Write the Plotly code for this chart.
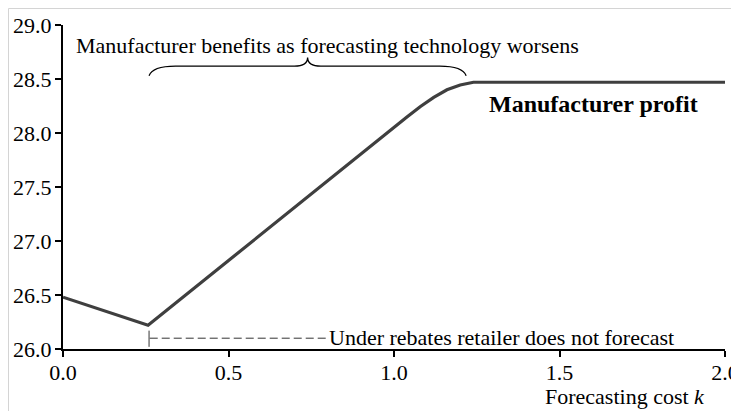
import plotly.graph_objects as go

# Data
k_values = [0.0, 0.257, 1.04, 1.08, 1.12, 1.16, 1.20, 1.24, 2.0]
profit = [26.48, 26.22, 28.15, 28.245, 28.33, 28.40, 28.445, 28.47, 28.47]

x_ticks = [0.0, 0.5, 1.0, 1.5, 2.0]
x_tick_labels = ["0.0", "0.5", "1.0", "1.5", "2.0"]
y_ticks = [26.0, 26.5, 27.0, 27.5, 28.0, 28.5, 29.0]
y_tick_labels = ["26.0", "26.5", "27.0", "27.5", "28.0", "28.5", "29.0"]

FONT = "Liberation Serif"
FS = 22

fig = go.Figure()
fig.add_trace(go.Scatter(
    x=k_values, y=profit, mode="lines",
    line=dict(color="#3f3f3f", width=3.2),
    hoverinfo="skip", showlegend=False,
))

# page offset (body margin) of the rendered figure
OFF = 8
W, H = 739, 411
# target plot area in page pixels: x 63..725, y 25..349
ml, mt = 63 - OFF, 25 - OFF
pw, ph = 662, 324
mr, mb = W - ml - pw, H - mt - ph

def px(xp):  # page x -> paper
    return (xp - OFF - ml) / pw

def py(yp):  # page y -> paper
    return (H - mb - (yp - OFF)) / ph

shapes = []
# light border of original image frame
shapes.append(dict(type="line", xref="paper", yref="paper",
                   x0=px(8.5), x1=px(760), y0=py(8.5), y1=py(8.5),
                   line=dict(color="#d4d4d4", width=1)))
shapes.append(dict(type="line", xref="paper", yref="paper",
                   x0=px(8.5), x1=px(8.5), y0=py(8.5), y1=py(440),
                   line=dict(color="#d4d4d4", width=1)))

# curly brace (data coordinates)
xl, xr, xm = 0.26, 1.218, 0.739
yf, ye, yt = 28.62, 28.53, 28.70
brace = (f"M {xl},{ye} Q {xl+0.01},{yf} {xl+0.08},{yf} "
         f"L {xm-0.04},{yf} Q {xm},{yf} {xm},{yt} "
         f"Q {xm},{yf} {xm+0.04},{yf} "
         f"L {xr-0.08},{yf} Q {xr-0.01},{yf} {xr},{ye}")
shapes.append(dict(type="path", xref="x", yref="y", path=brace,
                   line=dict(color="black", width=1.3)))

# dashed indicator
shapes.append(dict(type="line", xref="x", yref="y",
                   x0=0.262, x1=0.80, y0=26.10, y1=26.10,
                   line=dict(color="#333333", width=1, dash="8px,4px")))
shapes.append(dict(type="line", xref="x", yref="y",
                   x0=0.26, x1=0.26, y0=26.02, y1=26.17,
                   line=dict(color="#333333", width=1)))

annotations = [
    dict(x=0.033, y=28.81, xref="x", yref="y", xanchor="left", yanchor="middle",
         text="Manufacturer benefits as forecasting technology worsens",
         showarrow=False, font=dict(family=FONT, size=FS, color="black")),
    dict(x=1.282, y=28.27, xref="x", yref="y", xanchor="left", yanchor="middle",
         text="<b>Manufacturer profit</b>",
         showarrow=False, font=dict(family=FONT, size=24, color="black")),
    dict(x=0.798, y=26.11, xref="x", yref="y", xanchor="left", yanchor="middle",
         text="Under rebates retailer does not forecast",
         showarrow=False, font=dict(family=FONT, size=FS, color="black")),
    dict(x=px(707), y=py(396), xref="paper", yref="paper", xanchor="right", yanchor="middle",
         text="Forecasting cost <i>k</i>",
         showarrow=False, font=dict(family=FONT, size=FS, color="black")),
]

axis_common = dict(showgrid=False, zeroline=False, showline=True, linecolor="black",
                   linewidth=2, ticks="outside", ticklen=6, tickwidth=1.5,
                   tickcolor="black", tickfont=dict(family=FONT, size=FS),
                   fixedrange=True, automargin=False)

fig.update_layout(
    width=W, height=H,
    margin=dict(l=ml, r=mr, t=mt, b=mb, pad=0),
    paper_bgcolor="white", plot_bgcolor="white",
    font=dict(family=FONT, size=FS, color="black"),
    shapes=shapes, annotations=annotations,
    xaxis=dict(range=[0, 2.0], tickvals=x_ticks, ticktext=x_tick_labels,
               ticklabelstandoff=-3, **axis_common),
    yaxis=dict(range=[26.0, 29.0], tickvals=y_ticks, ticktext=y_tick_labels,
               ticklabelstandoff=-1, **axis_common),
)

fig.write_html("out.html")
